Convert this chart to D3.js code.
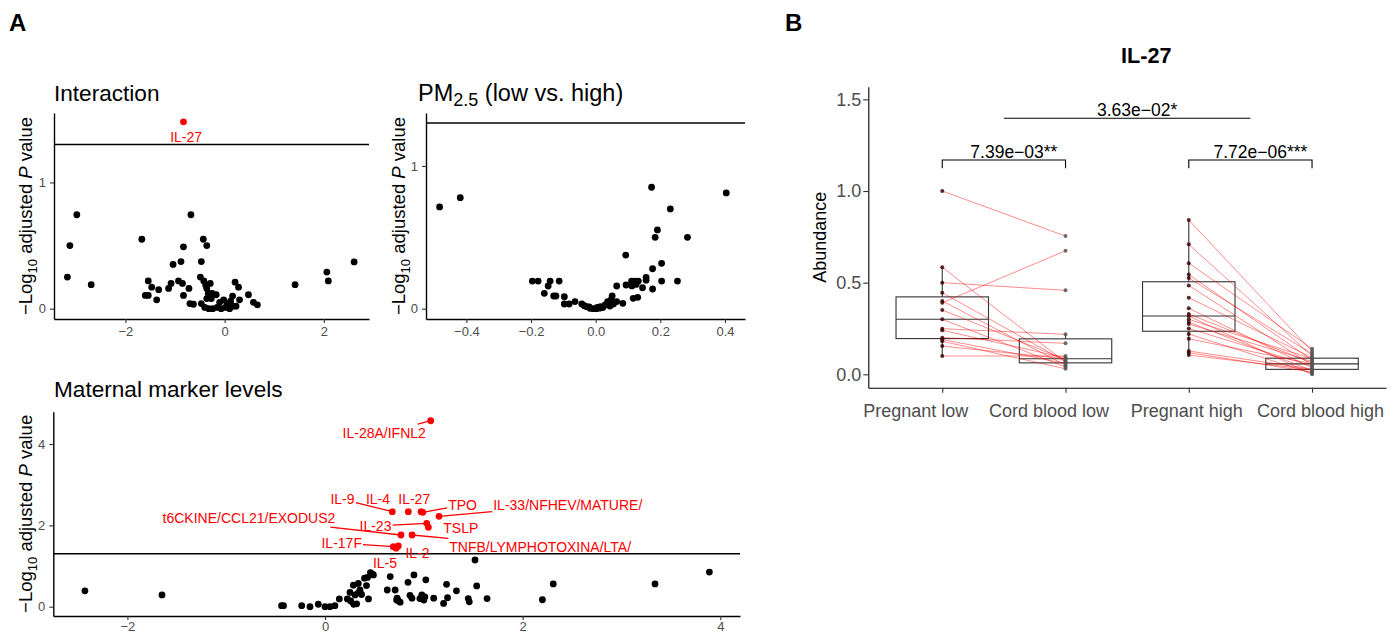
<!DOCTYPE html>
<html>
<head>
<meta charset="utf-8">
<script src="https://cdn.jsdelivr.net/npm/d3@7"></script>
<style>
  body { margin: 0; background: #fff; }
  svg text { font-family: "Liberation Sans", Arial, Helvetica, sans-serif; }
</style>
</head>
<body>
<svg id="fig" width="1399" height="633"></svg>
<script>
// ---------------- Panel A data: volcano plots (log fold change vs -log10 adjusted P) ----------------
const significanceCutoff = -Math.log10(0.05);

// Interaction term
const interactionLogFC = [-2.98,-3.12,-3.17,-2.69,-1.67,-0.68,-0.83,-0.43,-0.36,-0.47,-0.88,-1.04,1.42,2.06,2.09,2.61,-1.54,-1.47,-1.33,-1.60,-1.54,-1.37,-1.13,-1.08,-0.93,-0.85,-0.72,-0.83,-0.70,-0.63,-0.49,-0.42,-0.38,-0.29,-0.36,-0.33,-0.25,-0.17,-0.27,-0.36,-0.47,-0.40,-0.32,-0.24,-0.15,-0.07,0.02,0.10,0.17,-0.10,0.05,0.12,0.16,0.21,0.28,0.30,0.48,0.58,0.66,0.23,-0.02,0.08];
const interactionNegLogP = [0.744,0.50,0.25,0.19,0.55,0.744,0.49,0.55,0.50,0.373,0.373,0.35,0.19,0.29,0.22,0.37,0.22,0.17,0.15,0.105,0.105,0.07,0.16,0.20,0.22,0.20,0.16,0.105,0.04,0.035,0.25,0.22,0.185,0.20,0.16,0.12,0.12,0.11,0.08,0.08,0.04,0.01,0.0,0.0,0.01,0.0,0.01,0.0,0.02,0.05,0.04,0.06,0.10,0.21,0.17,0.07,0.11,0.05,0.03,0.02,0.07,0.03];
const interactionHitNames = ["IL-27"];
const interactionHitLogFC = [-0.83];
const interactionHitNegLogP = [1.48];
const interactionLabelX = [-0.776];
const interactionLabelY = [1.36];
const interactionLeader = [false];

// PM2.5 low vs high
const pmLogFC = [-0.483,-0.419,0.173,0.404,0.231,0.191,0.184,0.284,0.093,0.204,0.176,0.156,0.156,0.145,0.176,0.204,0.253,0.065,0.094,0.111,0.122,0.132,0.112,0.125,0.116,0.13,0.084,0.051,0.065,0.037,0.029,-0.196,-0.178,-0.141,-0.113,-0.147,-0.159,-0.13,-0.123,-0.097,-0.097,-0.082,-0.064,-0.043,-0.035,-0.028,-0.018,-0.008,0.002,0.012,0.022,0.044,0.055,0.047,0.04,-0.02,0.005,0.015];
const pmNegLogP = [0.713,0.778,0.851,0.811,0.699,0.552,0.50,0.50,0.376,0.318,0.28,0.22,0.20,0.147,0.138,0.194,0.194,0.159,0.166,0.194,0.194,0.194,0.16,0.17,0.073,0.08,0.038,0.089,0.05,0.05,0.026,0.194,0.194,0.194,0.194,0.159,0.108,0.089,0.089,0.084,0.033,0.033,0.05,0.033,0.021,0.014,0.003,0.0,0.0,0.004,0.008,0.019,0.033,0.06,0.03,0.012,0.01,0.015];

// Maternal marker levels
const maternalLogFC = [-2.43,-1.65,-0.44,-0.42,-0.236,-0.152,-0.068,0.0,0.05,0.10,0.145,0.226,0.253,0.287,0.337,0.354,0.304,0.32,0.337,0.37,0.42,0.44,0.43,0.46,0.49,0.63,0.66,0.71,0.725,0.76,0.84,0.90,0.88,0.98,1.00,1.02,1.10,1.20,1.23,1.24,1.33,1.46,1.45,1.518,1.535,1.64,2.20,2.31,3.34,3.89,0.74,0.96,1.01,0.26,0.29,0.48,0.40,0.86,0.73];
const maternalNegLogP = [0.39,0.29,0.025,0.025,0.025,0.0,0.06,0.0,0.0,0.025,0.19,0.19,0.35,0.53,0.57,0.41,0.29,0.07,0.34,0.30,0.52,0.19,0.72,0.84,0.78,0.41,0.74,0.41,0.165,0.11,0.60,0.78,0.21,0.29,0.165,0.66,0.21,0.08,0.55,0.22,0.39,0.12,0.20,1.148,0.51,0.20,0.17,0.56,0.56,0.85,0.15,0.20,0.24,0.14,0.06,0.80,0.70,0.28,0.21];
const maternalHitNames = ["IL-28A/IFNL2","IL-9","IL-4","IL-27","TPO","IL-33/NFHEV/MATURE/","IL-23","TSLP","t6CKINE/CCL21/EXODUS2","TNFB/LYMPHOTOXINA/LTA/","IL-17F","IL-5","IL-2"];
const maternalHitLogFC = [1.070,0.681,0.843,0.972,0.99,1.154,1.029,1.046,0.769,0.881,0.691,0.742,0.72];
const maternalHitNegLogP = [4.573,2.336,2.336,2.336,2.32,2.223,2.051,1.952,1.763,1.763,1.475,1.493,1.44];
const maternalLabelX = [0.599,0.177,0.536,0.903,1.392,2.457,0.511,1.374,-0.770,2.178,0.169,0.607,0.936];
const maternalLabelY = [4.264,2.641,2.641,2.641,2.501,2.501,1.984,1.928,2.174,1.475,1.559,1.082,1.328];
const maternalLeader = [true,true,false,false,true,true,true,false,true,true,true,false,false];

// ---------------- Panel B data: IL-27 abundance, paired samples ----------------
const groups = ["Pregnant low","Cord blood low","Pregnant high","Cord blood high"];
const pregnantLow = [1.0,0.584,0.50,0.445,0.40,0.39,0.351,0.30,0.249,0.24,0.20,0.19,0.18,0.154,0.10];
const cordBloodLow = [0.754,0.065,0.458,0.07,0.05,0.674,0.08,0.04,0.218,0.09,0.169,0.06,0.03,0.085,0.10];
const pregnantHigh = [0.842,0.709,0.606,0.544,0.525,0.485,0.418,0.36,0.329,0.318,0.30,0.285,0.274,0.25,0.22,0.194,0.127,0.118,0.105];
const cordBloodHigh = [0.125,0.10,0.14,0.078,0.112,0.05,0.091,0.035,0.062,0.0,0.085,0.02,0.07,0.045,0.005,0.057,0.029,0.012,0.025];
const abundanceTicks = [0, 0.5, 1.0, 1.5];
const sigLabels = ["7.39e\u221203**", "7.72e\u221206***", "3.63e\u221202*"];
const sigFrom = [0, 2, 0.5];
const sigTo = [1, 3, 2.5];
const sigHeight = [1.169, 1.169, 1.397];
const sigTip = [0.045, 0.045, 0];

// ---------------- drawing ----------------
const svg = d3.select("#fig");
const TICK_GREY = "#4d4d4d";
const RED = "#ff0000";

function styleAxis(sel, fontSize, tickColor) {
  sel.select(".domain").attr("stroke", "#000").attr("stroke-width", 1.4);
  sel.selectAll(".tick line").attr("stroke", tickColor).attr("stroke-width", 1.1);
  sel.selectAll(".tick text").attr("fill", TICK_GREY).attr("font-size", fontSize).attr("font-family", null);
}

function negLogTitle(g, x, y) {
  const t = g.append("text")
    .attr("transform", `translate(${x},${y}) rotate(-90)`)
    .attr("text-anchor", "middle")
    .attr("font-size", 18.5)
    .attr("fill", "#000");
  t.append("tspan").text("\u2212Log");
  t.append("tspan").attr("font-size", 13).attr("dy", 4.5).text("10");
  t.append("tspan").attr("dy", -4.5).text(" adjusted ");
  t.append("tspan").attr("font-style", "italic").text("P");
  t.append("tspan").text(" value");
}

function leaderStart(bb, px, py, pad) {
  const cx = bb.x + bb.width / 2, cy = bb.y + bb.height / 2;
  const hw = bb.width / 2 + pad, hh = bb.height / 2 + pad;
  const dx = px - cx, dy = py - cy;
  const s = Math.min(hw / Math.max(Math.abs(dx), 1e-6), hh / Math.max(Math.abs(dy), 1e-6));
  return [cx + dx * s, cy + dy * s];
}

function volcano(cfg) {
  const g = svg.append("g");
  const x = d3.scaleLinear().domain(cfg.xDomain).range(cfg.xRange);
  const y = d3.scaleLinear().domain(cfg.yDomain).range(cfg.yRange);

  // title
  const title = g.append("text").attr("x", cfg.titleX).attr("y", cfg.titleY)
    .attr("font-size", cfg.titleSize).attr("fill", "#000");
  cfg.title(title);

  // significance cutoff
  g.append("line")
    .attr("x1", cfg.xRange[0]).attr("x2", cfg.xRange[1])
    .attr("y1", y(significanceCutoff)).attr("y2", y(significanceCutoff))
    .attr("stroke", "#000").attr("stroke-width", 1.4);

  // all markers
  g.append("g").selectAll("circle")
    .data(d3.zip(cfg.fc, cfg.p))
    .join("circle")
    .attr("cx", d => x(d[0])).attr("cy", d => y(d[1]))
    .attr("r", 3.4).attr("fill", "#000");

  // significant markers with labels
  const hits = cfg.hitNames.map((n, i) => ({
    name: n, fc: cfg.hitFC[i], p: cfg.hitP[i],
    lx: cfg.labelX[i], ly: cfg.labelY[i], leader: cfg.leader[i]
  }));
  const lab = g.append("g");
  hits.forEach(h => {
    const t = lab.append("text")
      .attr("x", x(h.lx)).attr("y", y(h.ly)).attr("dy", "0.35em")
      .attr("text-anchor", "middle").attr("font-size", 14).attr("fill", RED)
      .text(h.name);
    if (h.leader) {
      const bb = t.node().getBBox();
      const px = x(h.fc), py = y(h.p);
      const s = leaderStart(bb, px, py, 1);
      lab.append("line").attr("x1", s[0]).attr("y1", s[1]).attr("x2", px).attr("y2", py)
        .attr("stroke", RED).attr("stroke-width", 1.3);
    }
  });
  g.append("g").selectAll("circle")
    .data(hits).join("circle")
    .attr("cx", d => x(d.fc)).attr("cy", d => y(d.p))
    .attr("r", 3.4).attr("fill", RED);

  // axes
  const xa = g.append("g").attr("transform", `translate(0,${cfg.yRange[0]})`)
    .call(d3.axisBottom(x).tickValues(cfg.xTicks).tickFormat(cfg.xFormat)
      .tickSizeInner(4).tickSizeOuter(0).tickPadding(cfg.xTickPad));
  styleAxis(xa, 13, "#333");
  const ya = g.append("g").attr("transform", `translate(${cfg.xRange[0]},0)`)
    .call(d3.axisLeft(y).tickValues(cfg.yTicks).tickFormat(d3.format("d"))
      .tickSizeInner(4).tickSizeOuter(0).tickPadding(4));
  styleAxis(ya, 13, "#333");

  negLogTitle(g, cfg.yTitleX, (cfg.yRange[0] + cfg.yRange[1]) / 2);
}

// panel letters
svg.append("text").attr("x", 9).attr("y", 30.5).attr("font-size", 24).attr("font-weight", "bold").text("A");
svg.append("text").attr("x", 785).attr("y", 30.5).attr("font-size", 24).attr("font-weight", "bold").text("B");

volcano({
  title: t => t.text("Interaction"),
  titleX: 54, titleY: 100.5, titleSize: 22.6,
  xDomain: [-3.44, 2.91], xRange: [54, 369],
  yDomain: [-0.082, 1.55], yRange: [319, 113],
  xTicks: [-2, 0, 2], xFormat: d3.format("d"), yTicks: [0, 1], xTickPad: 4,
  fc: interactionLogFC, p: interactionNegLogP,
  hitNames: interactionHitNames, hitFC: interactionHitLogFC, hitP: interactionHitNegLogP,
  labelX: interactionLabelX, labelY: interactionLabelY, leader: interactionLeader,
  yTitleX: 32
});

volcano({
  title: t => {
    t.append("tspan").text("PM");
    t.append("tspan").attr("font-size", 18).attr("dy", 5).text("2.5");
    t.append("tspan").attr("dy", -5).text(" (low vs. high)");
  },
  titleX: 418, titleY: 101, titleSize: 23.5,
  xDomain: [-0.525, 0.462], xRange: [426, 745],
  yDomain: [-0.072, 1.371], yRange: [319, 113],
  xTicks: [-0.4, -0.2, 0, 0.2, 0.4], xFormat: d3.format(".1f"), yTicks: [0, 1], xTickPad: 4,
  fc: pmLogFC, p: pmNegLogP,
  hitNames: [], hitFC: [], hitP: [], labelX: [], labelY: [], leader: [],
  yTitleX: 405
});

volcano({
  title: t => t.text("Maternal marker levels"),
  titleX: 54, titleY: 396.5, titleSize: 22.6,
  xDomain: [-2.75, 4.2], xRange: [53.3, 740],
  yDomain: [-0.229, 4.795], yRange: [616, 411.7],
  xTicks: [-2, 0, 2, 4], xFormat: d3.format("d"), yTicks: [0, 2, 4], xTickPad: 1.5,
  fc: maternalLogFC, p: maternalNegLogP,
  hitNames: maternalHitNames, hitFC: maternalHitLogFC, hitP: maternalHitNegLogP,
  labelX: maternalLabelX, labelY: maternalLabelY, leader: maternalLeader,
  yTitleX: 32
});

// ---------------- Panel B ----------------
(function () {
  const g = svg.append("g");
  const x = d3.scalePoint().domain(groups).range([868.3, 1386]).padding(0.6);
  const y = d3.scaleLinear().domain([-0.073, 1.569]).range([387.7, 86.7]);
  const values = [pregnantLow, cordBloodLow, pregnantHigh, cordBloodHigh];
  const step = x.step();
  const xAt = i => x(groups[0]) + i * step;
  const boxW = 0.75 * step;
  const FS = 18;
  // horizontal nudges that keep the wide category labels from crowding each other
  const labelNudge = [-27, -17, -2.5, 8];

  g.append("text").attr("x", 1146.3).attr("y", 63.3).attr("text-anchor", "middle")
    .attr("font-size", 21.7).attr("font-weight", "bold").text("IL-27");

  // box plots (Tukey whiskers, quantile type 7)
  values.forEach((vals, i) => {
    const s = vals.slice().sort(d3.ascending);
    const q1 = d3.quantile(s, 0.25), med = d3.quantile(s, 0.5), q3 = d3.quantile(s, 0.75);
    const iqr = q3 - q1;
    const lo = d3.min(s.filter(v => v >= q1 - 1.5 * iqr));
    const hi = d3.max(s.filter(v => v <= q3 + 1.5 * iqr));
    const cx = x(groups[i]);
    const bg = g.append("g").attr("stroke", "#333").attr("stroke-width", 1.1).attr("fill", "none");
    bg.append("line").attr("x1", cx).attr("x2", cx).attr("y1", y(q3)).attr("y2", y(hi));
    bg.append("line").attr("x1", cx).attr("x2", cx).attr("y1", y(q1)).attr("y2", y(lo));
    bg.append("rect").attr("x", cx - boxW / 2).attr("width", boxW)
      .attr("y", y(q3)).attr("height", y(q1) - y(q3));
    bg.append("line").attr("x1", cx - boxW / 2).attr("x2", cx + boxW / 2)
      .attr("y1", y(med)).attr("y2", y(med));
  });

  // paired lines
  const pairs = [[pregnantLow, cordBloodLow, 0], [pregnantHigh, cordBloodHigh, 2]];
  const lines = g.append("g").attr("stroke", RED).attr("stroke-opacity", 0.45).attr("stroke-width", 1);
  pairs.forEach(([a, b, i]) => {
    lines.selectAll(null).data(d3.zip(a, b)).join("line")
      .attr("x1", xAt(i)).attr("x2", xAt(i + 1))
      .attr("y1", d => y(d[0])).attr("y2", d => y(d[1]));
  });

  // sample points
  const pointFill = ["#3a0505", "#555", "#3a0505", "#555"];
  values.forEach((vals, i) => {
    g.append("g").selectAll("circle").data(vals).join("circle")
      .attr("cx", x(groups[i])).attr("cy", d => y(d))
      .attr("r", 2).attr("fill", pointFill[i]).attr("fill-opacity", 0.85);
  });

  // significance brackets
  sigLabels.forEach((lab, k) => {
    const x1 = xAt(sigFrom[k]), x2 = xAt(sigTo[k]);
    const yy = y(sigHeight[k]), yt = y(sigHeight[k] - sigTip[k]);
    g.append("path")
      .attr("d", `M${x1},${yt}V${yy}H${x2}V${yt}`)
      .attr("fill", "none").attr("stroke", "#000").attr("stroke-width", 1.1);
    g.append("text").attr("x", (x1 + x2) / 2).attr("y", yy - 2.5).attr("dx", 10)
      .attr("text-anchor", "middle").attr("font-size", 17.5).attr("fill", "#000").text(lab);
  });

  // axes
  const xa = g.append("g").attr("transform", `translate(0,${y.range()[0]})`)
    .call(d3.axisBottom(x).tickSizeInner(5).tickSizeOuter(0).tickPadding(12));
  styleAxis(xa, FS, "#333");
  xa.select(".domain").attr("stroke-width", 1.1);
  xa.selectAll(".tick text").attr("dx", (d, i) => labelNudge[i]);
  const ya = g.append("g").attr("transform", `translate(${x.range()[0]},0)`)
    .call(d3.axisLeft(y).tickValues(abundanceTicks).tickFormat(d3.format(".1f"))
      .tickSizeInner(5).tickSizeOuter(0).tickPadding(2));
  styleAxis(ya, FS, "#333");
  ya.select(".domain").attr("stroke-width", 1.1);

  g.append("text").attr("transform", `translate(826,${(y.range()[0] + y.range()[1]) / 2}) rotate(-90)`)
    .attr("text-anchor", "middle").attr("font-size", FS).text("Abundance");
})();
</script>
</body>
</html>
